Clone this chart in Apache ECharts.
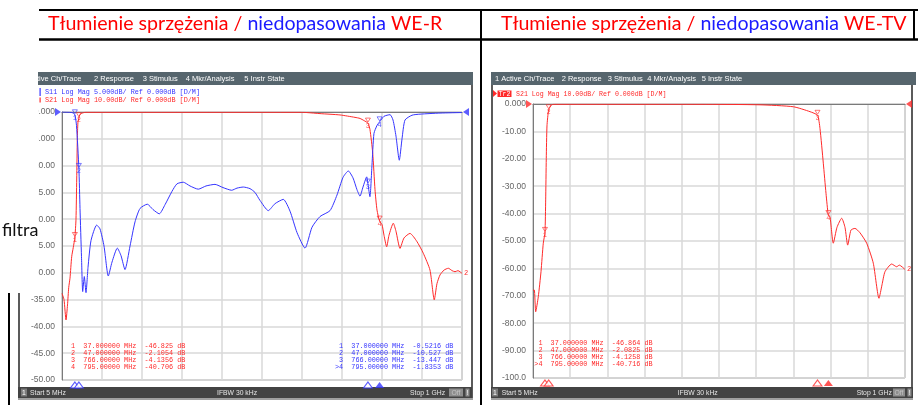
<!DOCTYPE html>
<html>
<head>
<meta charset="utf-8">
<script src="https://cdn.jsdelivr.net/npm/echarts@6/dist/echarts.min.js"></script>
<style>
html, body { margin: 0; padding: 0; background: #fff; }
#main { width: 918px; height: 405px; }
</style>
</head>
<body>
<div id="main"></div>
<script>
// --- traces (MHz, dB) ---
var s11LeftFreq = [5, 29.9, 37, 41, 47, 49.8, 53.5, 56.5, 60.5, 64.7, 69.7, 77.1, 91.3, 99.5, 109.5, 120.2, 129.4, 142.6, 151.8, 161.7,
  174.2, 186.6, 199, 217.2, 231.4, 247, 261.2, 278.6, 291, 306.7, 323.4, 344, 363.2, 385.6, 405.5, 427.1, 440.3, 456, 472.7, 485,
  497.5, 518.2, 534.8, 555.5, 572.2, 589.6, 609.5, 626.9, 646.8, 671.7, 689, 704, 717.2, 728.9, 738.8, 746.3, 753.7, 763, 766, 771,
  776, 781, 788.6, 795, 806, 821, 828.4, 835.8, 844, 850.8, 858.2, 875.6, 895.5, 945.3, 1000];
var s11LeftDb = [0, -0.1, -0.52, -2.5, -10.5, -18, -27, -33.5, -30.7, -33.7, -29, -24, -21.1, -21.8, -25, -30.6, -28, -25.4, -26.8, -29.4,
  -25, -20.5, -18, -17.2, -18.2, -19, -17.3, -14.8, -13.4, -13.1, -13.8, -14.4, -13.8, -13.5, -14.1, -14.6, -14.2, -14, -14.3, -15,
  -16.5, -18.4, -17.1, -16.3, -18.5, -22.5, -25.4, -21.5, -19.5, -18.4, -15.5, -12.2, -11, -12.3, -14.5, -15.7, -14, -12.1, -13.45, -15.8,
  -10, -4, -2.5, -1.84, -0.8, -0.5, -1.5, -4.5, -9, -5, -1.5, -0.6, -0.4, -0.2, -0.1];

var s21LeftFreq = [5, 10, 15, 18.7, 21.7, 24.9, 29.1, 33.1, 37, 39.8, 41.6, 43.1, 44.6, 47, 49.8, 57.3, 64.7, 597, 613.7, 646.8,
  696.5, 733.8, 746.3, 756.2, 766, 771, 777.9, 783.6, 788.6, 795, 801, 806, 812.6, 818.4, 829.1, 835.8, 845.8, 855.7, 870.6, 887.3,
  903.7, 920.4, 931, 937.8, 945.3, 955.2, 966, 975.3, 982.6, 990, 1000];
var s21LeftDb = [-67.7, -70, -77.6, -72, -65.5, -62, -54, -50.5, -46.8, -40, -25, -10, -4, -2.1, -0.9, -0.3, -0.1, -0.1, -0.2, -0.6,
  -1.1, -2.0, -2.4, -3.2, -4.14, -6.5, -15.3, -29, -36.6, -40.7, -42, -46, -50.3, -46, -41.5, -44.5, -50.9, -47, -45.3, -48.2,
  -52.7, -59, -70.1, -64, -60.8, -59, -58.3, -59.2, -59.6, -59.2, -60.2];

var s21RightFreq = [5, 8.5, 12.2, 19.2, 26.4, 32.5, 37, 38.9, 40.5, 42.4, 47, 55, 66.5, 451.7, 612, 701.2, 745.9, 766, 772.6, 781.5,
  788.7, 795, 799.4, 808.2, 818.1, 830.7, 839.5, 846.7, 855.5, 866.2, 879.6, 897.5, 915.2, 930.4, 938.5, 946.5, 964.4, 977.8, 984.8, 1000];
var s21RightDb = [-68, -67.9, -75.8, -70.3, -61.2, -50.8, -46.9, -35, -20, -8, -2.08, -0.3, -0.1, -0.1, -0.3, -1.0, -2.8, -4.13, -8.9, -21.6,
  -32.6, -40.7, -41.1, -50.8, -45, -41.7, -45, -51.5, -46, -45.4, -47, -50.8, -58.1, -70.9, -66, -61.2, -58.4, -59.4, -58.8, -60.4];

// markers
var markerFreq = [37, 47, 766, 795];
var markerS11Left = [-0.5216, -10.527, -13.447, -1.8353];
var markerS21Left = [-46.825, -2.1054, -4.1356, -40.706];
var markerS21Right = [-46.864, -2.0825, -4.1258, -40.716];

var BLUE = '#3535ff', RED = '#ff2a2a';

function zip(a, b) { return a.map(function (v, i) { return [v, b[i]]; }); }
function dbLabel(v) {
  var a = Math.abs(v);
  if (a < 10) return v.toFixed(3);
  if (a < 100) return v.toFixed(2);
  return v.toFixed(1);
}
function fmtDb(d) { return Math.abs(d) < 1 ? d.toFixed(4) : d.toPrecision(5); }
function readout(vals, active) {
  return vals.map(function (d, i) {
    return (i === active ? '>' : ' ') + (i + 1) + '  ' + markerFreq[i].toPrecision(8) + ' MHz  ' + fmtDb(d) + ' dB';
  }).join('\n');
}

var divAxis = function (g) {
  return {
    gridIndex: g, type: 'value', min: 0, max: 10, interval: 1,
    axisLabel: { show: false }, axisTick: { show: false },
    axisLine: { show: true, lineStyle: { color: '#7a7a7a', width: 1 } },
    splitLine: { show: true, lineStyle: { color: '#d8d8d8', width: 1.5 } }
  };
};
var dataX = function (g) { return { gridIndex: g, type: 'value', min: 5, max: 1000, show: false }; };
var dbAxis = function (g, min, step) {
  return {
    gridIndex: g, type: 'value', min: min, max: 0, interval: step,
    axisLine: { show: true, lineStyle: { color: '#7a7a7a', width: 1 } },
    axisTick: { show: false },
    axisLabel: { formatter: dbLabel, color: '#666', fontSize: 8.5, fontFamily: 'Liberation Sans', margin: 7 },
    splitLine: { show: true, lineStyle: { color: '#d8d8d8', width: 1.5 } }
  };
};

function traceLine(name, xi, yi, freq, db, color, end) {
  return {
    name: name, type: 'line', xAxisIndex: xi, yAxisIndex: yi,
    data: zip(freq, db), symbol: 'none', smooth: 0.2,
    lineStyle: { color: color, width: 1 }, z: 3,
    endLabel: end ? { show: true, formatter: '2', color: color, fontSize: 7, distance: 2, fontFamily: 'Liberation Mono' } : { show: false }
  };
}
function markerSeries(xi, yi, vals, color) {
  return {
    type: 'scatter', xAxisIndex: xi, yAxisIndex: yi, z: 4,
    data: zip(markerFreq, vals),
    symbol: 'triangle', symbolRotate: 180, symbolSize: [5, 4], symbolOffset: [0, -3],
    itemStyle: { color: 'rgba(0,0,0,0)', borderColor: color, borderWidth: 0.8 },
    label: { show: true, position: 'bottom', distance: 0, fontSize: 7, color: color, fontFamily: 'Liberation Mono',
      formatter: function (p) { return String(p.dataIndex + 1); } }
  };
}
function bottomTriangles(xi, yi, yMin, color) {
  return {
    type: 'scatter', xAxisIndex: xi, yAxisIndex: yi, clip: false, z: 4, silent: true,
    symbol: 'triangle', symbolSize: [9, 6], symbolOffset: [0, 5],
    data: markerFreq.map(function (f, i) {
      return { value: [f, yMin], itemStyle: i === 3 ? { color: color } : { color: '#fff', borderColor: color, borderWidth: 1 } };
    })
  };
}
function refTriangles(xi, yi, color) {
  return {
    type: 'scatter', xAxisIndex: xi, yAxisIndex: yi, clip: false, z: 4, silent: true,
    symbol: 'triangle', symbolSize: [8, 6], itemStyle: { color: color },
    data: [
      { value: [5, 0], symbolRotate: -90, symbolOffset: [-4, 0] },
      { value: [1000, 0], symbolRotate: 90, symbolOffset: [4, 0] }
    ]
  };
}

function txt(x, y, s, font, fill, extra) {
  var st = { x: x, y: y, text: s, font: font, fill: fill, verticalAlign: 'middle' };
  if (extra) for (var k in extra) st[k] = extra[k];
  return { type: 'text', z: 6, silent: true, style: st };
}
function rect(x, y, w, h, fill, z, stroke) {
  return { type: 'rect', z: z, silent: true, shape: { x: x, y: y, width: w, height: h },
    style: stroke ? { fill: fill, stroke: stroke, lineWidth: 1 } : { fill: fill } };
}
function line(x1, y1, x2, y2, w, z) {
  return { type: 'line', z: z, silent: true, shape: { x1: x1, y1: y1, x2: x2, y2: y2 }, style: { stroke: '#000', lineWidth: w } };
}

var hdrFont = '7.5px "Liberation Sans"';
var barFont = '6.8px "Liberation Sans"';
var monoFont = '6.8px "Liberation Mono"';
var titleFont = '19.6px Lato';

var graphics = [
  // left analyser screen
  rect(18, 72, 455, 328, '#5b5b5b', -1),
  rect(18, 72, 455, 13, '#56656d', -1),
  rect(20, 85, 451, 302, '#ffffff', -1),
  rect(18, 387, 454, 11, '#434343', -1),
  rect(18, 398, 455, 2, '#a0a0a0', -1),
  // right analyser screen
  rect(491, 72, 422, 328, '#5b5b5b', -1),
  rect(491, 72, 425, 13, '#56656d', -1),
  rect(493, 85, 418, 302, '#ffffff', -1),
  rect(491, 387, 422, 11, '#434343', -1),
  rect(491, 398, 422, 2, '#a0a0a0', -1),

  // menu bars
  txt(22, 78.5, '1 Active Ch/Trace', hdrFont, '#fff'),
  txt(94, 78.5, '2 Response', hdrFont, '#fff'),
  txt(142.7, 78.5, '3 Stimulus', hdrFont, '#fff'),
  txt(185.7, 78.5, '4 Mkr/Analysis', hdrFont, '#fff'),
  txt(244.3, 78.5, '5 Instr State', hdrFont, '#fff'),
  txt(495, 78.5, '1 Active Ch/Trace', hdrFont, '#fff'),
  txt(561.7, 78.5, '2 Response', hdrFont, '#fff'),
  txt(607.7, 78.5, '3 Stimulus', hdrFont, '#fff'),
  txt(647.3, 78.5, '4 Mkr/Analysis', hdrFont, '#fff'),
  txt(701.7, 78.5, '5 Instr State', hdrFont, '#fff'),

  // trace header lines
  rect(39.5, 88, 1.2, 8, BLUE, 5),
  txt(45, 92.5, 'S11 Log Mag 5.000dB/ Ref 0.000dB [D/M]', monoFont, BLUE),
  rect(39.5, 97.5, 1.2, 5, RED, 5),
  txt(45, 100, 'S21 Log Mag 10.00dB/ Ref 0.000dB [D/M]', monoFont, RED),
  { type: 'polygon', z: 5, silent: true, shape: { points: [[493, 90], [493, 97], [497, 93.5]] }, style: { fill: RED } },
  rect(497.5, 90.5, 14, 6.5, RED, 5),
  txt(504.5, 94, 'Tr2', '6.5px "Liberation Mono"', '#fff', { align: 'center' }),
  txt(516, 94, 'S21 Log Mag 10.00dB/ Ref 0.000dB [D/M]', '6.6px "Liberation Mono"', RED),

  // marker readouts
  txt(67, 343, readout(markerS21Left, -1), monoFont, RED, { verticalAlign: 'top', lineHeight: 6.9 }),
  txt(335, 343, readout(markerS11Left, 3), monoFont, BLUE, { verticalAlign: 'top', lineHeight: 6.9 }),
  txt(534.3, 340, readout(markerS21Right, 3), monoFont, RED, { verticalAlign: 'top', lineHeight: 6.9 }),

  // status bars
  rect(21, 388.5, 6, 8, '#7a7a7a', 5),
  txt(24, 392.7, '1', barFont, '#fff', { align: 'center' }),
  txt(30, 392.7, 'Start 5 MHz', barFont, '#e6e6e6'),
  txt(217, 392.7, 'IFBW 30 kHz', barFont, '#e6e6e6'),
  txt(410, 392.7, 'Stop 1 GHz', barFont, '#e6e6e6'),
  rect(449, 388.5, 14, 8, '#8e8e8e', 5),
  txt(456, 392.7, 'Off', barFont, '#c4c4c4', { align: 'center' }),
  rect(465.5, 388.5, 4, 8, '#8e8e8e', 5),
  txt(467.5, 392.7, '!', barFont, '#fff', { align: 'center' }),
  rect(492, 388.5, 6, 8, '#7a7a7a', 5),
  txt(495, 392.7, '1', barFont, '#fff', { align: 'center' }),
  txt(501.7, 392.7, 'Start 5 MHz', barFont, '#e6e6e6'),
  txt(677.7, 392.7, 'IFBW 30 kHz', barFont, '#e6e6e6'),
  txt(856.7, 392.7, 'Stop 1 GHz', barFont, '#e6e6e6'),
  rect(893, 388.5, 12, 8, '#8e8e8e', 5),
  txt(899, 392.7, 'Off', barFont, '#c4c4c4', { align: 'center' }),
  rect(907.5, 388.5, 4, 8, '#8e8e8e', 5),
  txt(909.5, 392.7, '!', barFont, '#fff', { align: 'center' }),

  // slide elements over the screenshot
  rect(0, 41, 38, 252, '#ffffff', 10),
  { type: 'text', z: 11, silent: true, style: { x: 2, y: 230, text: 'filtra', font: '18px Lato', fill: '#111', verticalAlign: 'middle' } },
  rect(8, 293, 2, 112, '#000', 11),
  line(39, 10, 918, 10, 2, 11),
  line(39, 39.5, 918, 39.5, 2.5, 11),
  line(481, 10, 481, 405, 2, 11),
  line(914, 10, 914, 40, 2, 11),
  { type: 'text', z: 11, silent: true, style: {
      x: 48, y: 24, verticalAlign: 'middle', font: titleFont,
      text: '{r|Tłumienie sprzężenia /} {b|niedopasowania} {r|WE-R}',
      rich: { r: { fill: '#ff0000', font: titleFont }, b: { fill: '#1a1aff', font: titleFont } } } },
  { type: 'text', z: 11, silent: true, style: {
      x: 501, y: 24, verticalAlign: 'middle', font: titleFont,
      text: '{r|Tłumienie sprzężenia /} {b|niedopasowania} {r|WE-TV}',
      rich: { r: { fill: '#ff0000', font: titleFont }, b: { fill: '#1a1aff', font: titleFont } } } }
];

var option = {
  animation: false,
  grid: [
    { left: 62, top: 112, width: 400, height: 268, show: true, backgroundColor: '#fff', borderColor: '#8a8a8a', borderWidth: 1 },
    { left: 533, top: 104, width: 372, height: 274, show: true, backgroundColor: '#fff', borderColor: '#8a8a8a', borderWidth: 1 }
  ],
  xAxis: [divAxis(0), dataX(0), divAxis(1), dataX(1)],
  yAxis: [
    dbAxis(0, -50, 5),
    { gridIndex: 0, type: 'value', min: -100, max: 0, show: false },
    dbAxis(1, -100, 10)
  ],
  graphic: graphics,
  series: [
    traceLine('S21 WE-R', 1, 1, s21LeftFreq, s21LeftDb, RED, true),
    traceLine('S11 WE-R', 1, 0, s11LeftFreq, s11LeftDb, BLUE, false),
    traceLine('S21 WE-TV', 3, 2, s21RightFreq, s21RightDb, RED, true),
    markerSeries(1, 0, markerS11Left, BLUE),
    markerSeries(1, 1, markerS21Left, RED),
    markerSeries(3, 2, markerS21Right, RED),
    bottomTriangles(1, 0, -50, BLUE),
    bottomTriangles(3, 2, -100, RED),
    refTriangles(1, 0, BLUE),
    refTriangles(3, 2, RED)
  ]
};

var myChart = echarts.init(document.getElementById('main'));
myChart.setOption(option);
</script>
</body>
</html>
